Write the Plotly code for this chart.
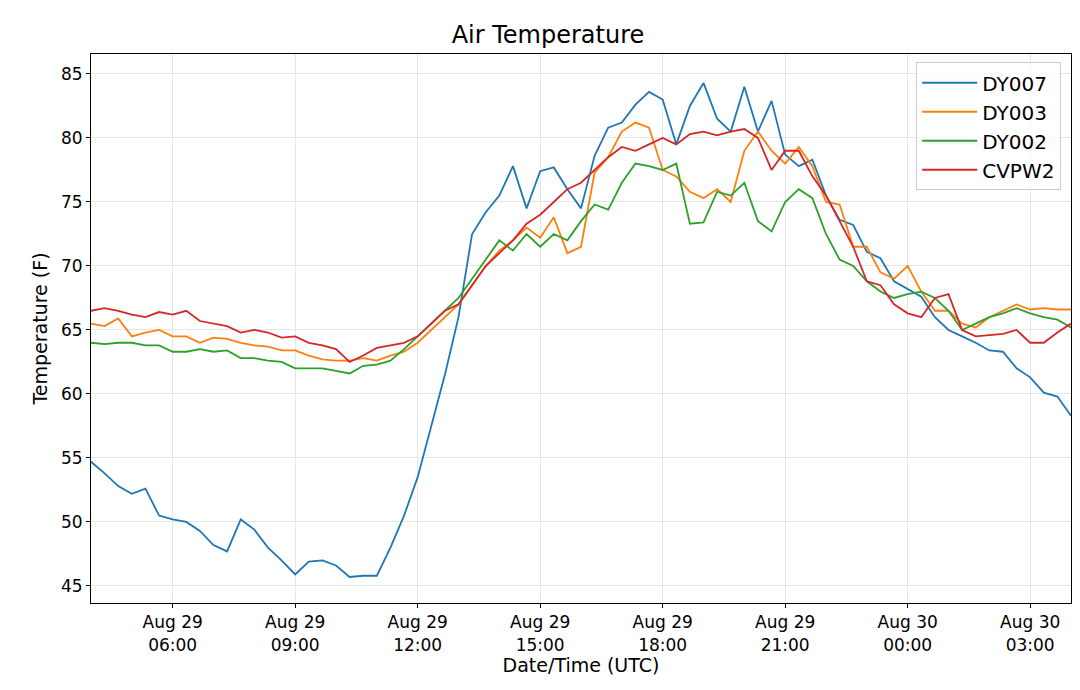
import plotly.graph_objects as go
import pandas as pd

dy007 = [54.7,53.8,52.8,52.2,52.6,50.5,50.2,50.0,49.3,48.2,47.7,50.2,49.4,48.0,47.0,45.9,46.9,47.0,46.6,45.7,45.8,45.8,48.0,50.5,53.5,57.5,61.5,66.0,72.5,74.2,75.5,77.8,74.5,77.4,77.7,76.0,74.5,78.6,80.8,81.2,82.6,83.6,83.0,79.5,82.5,84.3,81.5,80.5,84.0,80.5,82.9,78.7,77.8,78.3,75.5,73.6,73.2,71.1,70.6,68.8,68.2,67.6,66.0,65.0,64.5,64.0,63.4,63.3,62.0,61.3,60.1,59.8,58.3]
dy003 = [65.5,65.3,65.9,64.5,64.8,65.0,64.5,64.5,64.0,64.4,64.3,64.0,63.8,63.7,63.4,63.4,63.0,62.7,62.6,62.6,62.8,62.6,63.0,63.3,64.0,65.0,66.0,67.0,68.5,70.0,71.2,72.0,73.0,72.2,73.8,71.0,71.5,77.3,78.5,80.5,81.2,80.8,77.5,77.0,75.8,75.3,76.0,75.0,79.0,80.5,79.0,78.0,79.3,77.8,75.0,74.8,71.5,71.5,69.5,69.0,70.0,68.0,66.5,66.5,65.5,65.2,66.0,66.5,67.0,66.6,66.7,66.6,66.6]
dy002 = [64.0,63.9,64.0,64.0,63.8,63.8,63.3,63.3,63.5,63.3,63.4,62.8,62.8,62.6,62.5,62.0,62.0,62.0,61.8,61.6,62.2,62.3,62.6,63.5,64.5,65.5,66.5,67.5,69.0,70.5,72.0,71.2,72.5,71.5,72.5,72.0,73.5,74.8,74.4,76.5,78.0,77.8,77.5,78.0,73.3,73.4,75.8,75.5,76.5,73.5,72.7,75.0,76.0,75.3,72.5,70.5,70.0,68.8,68.0,67.5,67.8,68.0,67.5,66.5,65.0,65.5,66.0,66.3,66.7,66.3,66.0,65.8,65.2]
cvpw2 = [66.5,66.7,66.5,66.2,66.0,66.4,66.2,66.5,65.7,65.5,65.3,64.8,65.0,64.8,64.4,64.5,64.0,63.8,63.5,62.5,63.0,63.6,63.8,64.0,64.5,65.5,66.5,67.0,68.5,70.0,71.0,72.0,73.3,74.0,75.0,76.0,76.5,77.5,78.5,79.3,79.0,79.5,80.0,79.5,80.3,80.5,80.2,80.5,80.7,80.0,77.5,79.0,79.0,77.0,75.5,73.5,71.5,68.8,68.5,67.0,66.3,66.0,67.5,67.8,65.0,64.5,64.6,64.7,65.0,64.0,64.0,64.8,65.5]

series = [("DY007", dy007, "#1f77b4"), ("DY003", dy003, "#ff7f0e"),
          ("DY002", dy002, "#2ca02c"), ("CVPW2", cvpw2, "#d62728")]

fig = go.Figure()
for name, vals, col in series:
    t = pd.date_range("2019-08-29 04:00", periods=len(vals), freq="20min")
    fig.add_trace(go.Scatter(x=t, y=vals, mode="lines", name=name,
                             line=dict(color=col, width=1.8)))

tickvals = pd.date_range("2019-08-29 06:00", "2019-08-30 03:00", freq="3h")
ticktext = [d.strftime("%b %d<br>%H:%M") for d in tickvals]

ax = dict(showline=True, linecolor="black", linewidth=1, mirror=True,
          ticks="outside", ticklen=4, tickcolor="black", automargin=False,
          showgrid=True, gridcolor="#e6e6e6", gridwidth=1, zeroline=False,
          tickfont=dict(size=17, color="black"))
fig.update_layout(
    width=1080, height=690, plot_bgcolor="white", paper_bgcolor="white",
    font=dict(family="DejaVu Sans", color="black"),
    title=dict(text="Air Temperature", x=0.5, xanchor="center", y=0.961, yanchor="middle",
               font=dict(size=24), automargin=False),
    margin=dict(l=83, r=17, t=46, b=95),
    xaxis=dict(**ax, range=["2019-08-29 04:00", "2019-08-30 04:00"],
               tickvals=tickvals, ticktext=ticktext,
               title=dict(text="Date/Time (UTC)", font=dict(size=19), standoff=4)),
    yaxis=dict(**ax, range=[43.67, 86.56], tickvals=list(range(45, 90, 5)),
               title=dict(text="Temperature (F)", font=dict(size=19), standoff=8)),
    legend=dict(x=0.99, y=0.985, xanchor="right", yanchor="top",
                bordercolor="#cccccc", borderwidth=1, bgcolor="rgba(255,255,255,0.8)",
                font=dict(size=20), itemwidth=55),
    showlegend=True,
)
fig.write_html("out.html")
